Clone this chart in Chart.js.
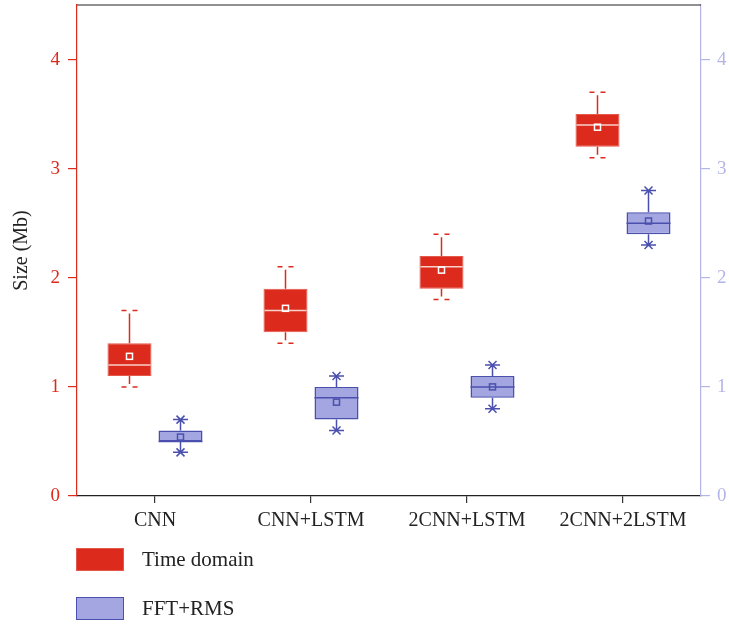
<!DOCTYPE html>
<html>
<head>
<meta charset="utf-8">
<script src="https://cdn.jsdelivr.net/npm/chart.js@4.4.1/dist/chart.umd.min.js"></script>
<style>
  html, body { margin: 0; padding: 0; background: #ffffff; }
  #wrap { position: relative; width: 729px; height: 627px; font-family: "Liberation Serif", "DejaVu Serif", serif; }
  canvas { position: absolute; left: 0; top: 0; }
  .leg { position: absolute; left: 76px; width: 48px; height: 23px; box-sizing: border-box; }
  .legtxt { position: absolute; left: 142px; font-size: 21px; color: #222; line-height: 24px; }
</style>
</head>
<body>
<div id="wrap">
  <canvas id="c" width="729" height="627"></canvas>
  <div class="leg" style="top:548px;background:#DC2B1C;border:1px solid #E4584B;"></div>
  <div class="legtxt" style="top:547px;">Time domain</div>
  <div class="leg" style="top:597px;background:#A4A6E1;border:1.5px solid #4B50AE;"></div>
  <div class="legtxt" style="top:596px;">FFT+RMS</div>
</div>
<script>
const categories = ['CNN', 'CNN+LSTM', '2CNN+LSTM', '2CNN+2LSTM'];
const yTicks = [0, 1, 2, 3, 4];

const timeMin    = [1.0, 1.4, 1.8, 3.1];
const timeQ1     = [1.1, 1.5, 1.9, 3.2];
const timeMedian = [1.2, 1.7, 2.1, 3.4];
const timeQ3     = [1.4, 1.9, 2.2, 3.5];
const timeMax    = [1.7, 2.1, 2.4, 3.7];
const timeMean   = [1.28, 1.72, 2.07, 3.38];

const fftMin    = [0.4, 0.6, 0.8, 2.3];
const fftQ1     = [0.5, 0.7, 0.9, 2.4];
const fftMedian = [0.5, 0.9, 1.0, 2.5];
const fftQ3     = [0.6, 1.0, 1.1, 2.6];
const fftMax    = [0.7, 1.1, 1.2, 2.8];
const fftMean   = [0.54, 0.86, 1.0, 2.52];

const RED = '#DC2B1C';
const BLUE_FILL = '#A4A6E1';
const BLUE_LINE = '#4B50AE';
const RIGHT_AXIS = '#B3B5E8';
const FONT = '"Liberation Serif", "DejaVu Serif", serif';

const stats = [
  { min: timeMin, q1: timeQ1, med: timeMedian, q3: timeQ3, max: timeMax, mean: timeMean, style: 'time' },
  { min: fftMin, q1: fftQ1, med: fftMedian, q3: fftQ3, max: fftMax, mean: fftMean, style: 'fft' }
];

const boxPlugin = {
  id: 'boxExtras',
  afterDatasetsDraw(chart) {
    const ctx = chart.ctx;
    const ys = chart.scales.y;
    stats.forEach((s, di) => {
      const meta = chart.getDatasetMeta(di);
      meta.data.forEach((bar, j) => {
        const x = bar.x;
        const w = bar.width;
        const yMax = ys.getPixelForValue(s.max[j]);
        const yMin = ys.getPixelForValue(s.min[j]);
        const yQ1 = ys.getPixelForValue(s.q1[j]);
        const yQ3 = ys.getPixelForValue(s.q3[j]);
        const yMed = ys.getPixelForValue(s.med[j]);
        const yMean = ys.getPixelForValue(s.mean[j]);
        ctx.save();
        ctx.lineWidth = 1.5;
        if (s.style === 'time') {
          ctx.strokeStyle = RED;
          ctx.beginPath();
          ctx.moveTo(x, yQ3); ctx.lineTo(x, yMax + 3);
          ctx.moveTo(x, yQ1); ctx.lineTo(x, yMin - 3);
          [yMax, yMin].forEach(yy => {
            ctx.moveTo(x - 8, yy); ctx.lineTo(x - 3, yy);
            ctx.moveTo(x + 3, yy); ctx.lineTo(x + 8, yy);
          });
          ctx.stroke();
          ctx.strokeStyle = '#F6D2CC';
          ctx.beginPath();
          ctx.moveTo(x - w / 2 + 1, yMed); ctx.lineTo(x + w / 2 - 1, yMed);
          ctx.stroke();
          ctx.strokeStyle = '#FFFFFF';
          ctx.strokeRect(x - 3, yMean - 3, 6, 6);
        } else {
          ctx.strokeStyle = BLUE_LINE;
          ctx.beginPath();
          ctx.moveTo(x, yQ3); ctx.lineTo(x, yMax);
          ctx.moveTo(x, yQ1); ctx.lineTo(x, yMin);
          [yMax, yMin].forEach(yy => {
            ctx.moveTo(x - 7.5, yy); ctx.lineTo(x + 7.5, yy);
            ctx.moveTo(x - 4, yy - 4); ctx.lineTo(x + 4, yy + 4);
            ctx.moveTo(x - 4, yy + 4); ctx.lineTo(x + 4, yy - 4);
          });
          ctx.moveTo(x - w / 2, yMed); ctx.lineTo(x + w / 2, yMed);
          ctx.stroke();
          ctx.strokeRect(x - 3, yMean - 3, 6, 6);
        }
        ctx.restore();
      });
    });
    // top frame line
    const a = chart.chartArea;
    ctx.save();
    ctx.strokeStyle = '#222';
    ctx.lineWidth = 1.2;
    ctx.beginPath();
    ctx.moveTo(a.left, a.top); ctx.lineTo(a.right, a.top);
    ctx.stroke();
    ctx.restore();
  }
};

new Chart(document.getElementById('c'), {
  type: 'bar',
  data: {
    labels: categories,
    datasets: [
      {
        label: 'Time domain',
        data: timeQ1.map((v, i) => [v, timeQ3[i]]),
        backgroundColor: RED,
        borderColor: '#E4584B',
        borderWidth: 1,
        borderSkipped: false,
        yAxisID: 'y'
      },
      {
        label: 'FFT+RMS',
        data: fftQ1.map((v, i) => [v, fftQ3[i]]),
        backgroundColor: BLUE_FILL,
        borderColor: BLUE_LINE,
        borderWidth: 1.5,
        borderSkipped: false,
        yAxisID: 'y'
      }
    ]
  },
  options: {
    responsive: false,
    animation: false,
    devicePixelRatio: 1,
    categoryPercentage: 0.654,
    barPercentage: 0.863,
    layout: { padding: { top: 5, left: 0, right: 0, bottom: 0 } },
    plugins: { legend: { display: false }, tooltip: { enabled: false } },
    scales: {
      x: {
        offset: true,
        grid: { display: true, drawOnChartArea: false, offset: false, tickLength: 7, tickColor: '#333', lineWidth: 1.2 },
        border: { display: true, color: '#222', width: 1.2 },
        ticks: { color: '#222', font: { family: FONT, size: 20 }, padding: 6, maxRotation: 0 },
        afterFit(scale) { scale.height = 131; scale.paddingLeft = 0; scale.paddingRight = 0; }
      },
      y: {
        position: 'left',
        min: 0, max: 4.5,
        afterBuildTicks(scale) { scale.ticks = yTicks.map(v => ({ value: v })); },
        ticks: { stepSize: 1, includeBounds: false, color: RED, font: { family: FONT, size: 19 }, padding: 8 },
        grid: { display: true, drawOnChartArea: false, tickLength: 9, tickColor: RED, lineWidth: 1.2 },
        border: { display: true, color: RED, width: 1.2 },
        title: { display: true, text: 'Size (Mb)', color: '#222', font: { family: FONT, size: 20 }, padding: { top: 10, bottom: 0 } },
        afterFit(scale) { scale.width = 77; scale.paddingTop = 0; scale.paddingBottom = 0; }
      },
      y2: {
        position: 'right',
        min: 0, max: 4.5,
        afterBuildTicks(scale) { scale.ticks = yTicks.map(v => ({ value: v })); },
        ticks: { stepSize: 1, includeBounds: false, color: RIGHT_AXIS, font: { family: FONT, size: 19 }, padding: 7 },
        grid: { display: true, drawOnChartArea: false, tickLength: 9, tickColor: RIGHT_AXIS, lineWidth: 1.2 },
        border: { display: true, color: RIGHT_AXIS, width: 1.2 },
        afterFit(scale) { scale.width = 28; scale.paddingTop = 0; scale.paddingBottom = 0; }
      }
    }
  },
  plugins: [boxPlugin]
});
</script>
</body>
</html>
